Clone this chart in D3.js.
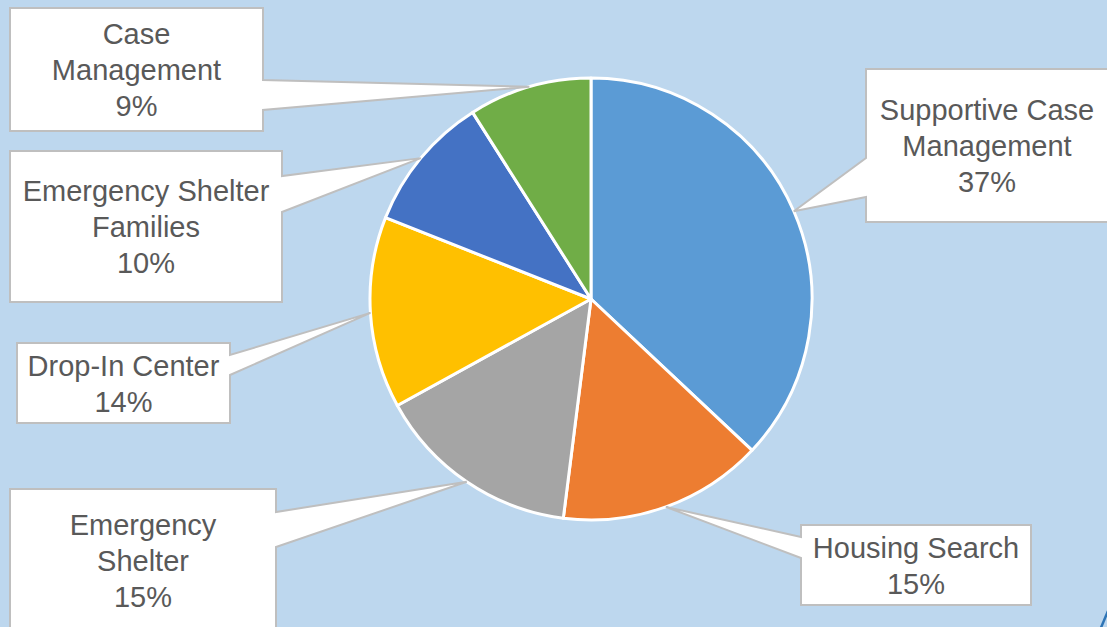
<!DOCTYPE html>
<html>
<head>
<meta charset="utf-8">
<script src="https://cdn.jsdelivr.net/npm/d3@7"></script>
<style>
  html, body { margin: 0; padding: 0; background: #BDD7EE; overflow: hidden; }
  svg { display: block; }
</style>
</head>
<body>
<script>
// slice data, clockwise from 12 o'clock
var categories = ["Supportive Case Management", "Housing Search", "Emergency Shelter",
                  "Drop-In Center", "Emergency Shelter Families", "Case Management"];
var values = [37, 15, 15, 14, 10, 9];
var percentLabels = ["37%", "15%", "15%", "14%", "10%", "9%"];
// how each category label wraps in its callout
var labelLines = [
  ["Supportive Case", "Management"],
  ["Housing Search"],
  ["Emergency", "Shelter"],
  ["Drop-In Center"],
  ["Emergency Shelter", "Families"],
  ["Case", "Management"]
];
var colors = ["#5B9BD5", "#ED7D31", "#A5A5A5", "#FFC000", "#4472C4", "#70AD47"];

// callout boxes: x0, y0, x1, y1, side where pointer leaves, pointer base y0/y1
var callouts = [
  {x0: 866, y0: 69, x1: 1110, y1: 222, side: "left", b0: 158, b1: 197},
  {x0: 801, y0: 525, x1: 1031, y1: 605, side: "left", b0: 537, b1: 558},
  {x0: 10, y0: 489, x1: 276, y1: 632, side: "right", b0: 512, b1: 547},
  {x0: 17, y0: 343, x1: 230, y1: 423, side: "right", b0: 355, b1: 375},
  {x0: 10, y0: 151, x1: 282, y1: 302, side: "right", b0: 176, b1: 212},
  {x0: 10, y0: 8, x1: 263, y1: 131, side: "right", b0: 80, b1: 110}
];

var width = 1107, height = 627;
var cx = 591, cy = 299, radius = 221;

var svg = d3.select("body").append("svg")
    .attr("width", width)
    .attr("height", height);

svg.append("rect")
    .attr("width", width)
    .attr("height", height)
    .attr("fill", "#BDD7EE");

var pie = d3.pie().sort(null).value(function(d) { return d; });
var arcs = pie(values);

var arc = d3.arc().innerRadius(0).outerRadius(radius);
var edgeArc = d3.arc().innerRadius(radius).outerRadius(radius);

var g = svg.append("g").attr("transform", "translate(" + cx + "," + cy + ")");

g.selectAll("path.slice")
  .data(arcs)
  .enter().append("path")
    .attr("class", "slice")
    .attr("d", arc)
    .attr("fill", function(d, i) { return colors[i]; })
    .attr("stroke", "#FFFFFF")
    .attr("stroke-width", 3)
    .attr("stroke-linejoin", "round");

// callout shape = box with a wedge that points to the slice edge
function calloutPath(c, tip) {
  var p = d3.path();
  p.moveTo(c.x0, c.y0);
  p.lineTo(c.x1, c.y0);
  if (c.side == "right") {
    p.lineTo(c.x1, c.b0);
    p.lineTo(tip[0], tip[1]);
    p.lineTo(c.x1, c.b1);
  }
  p.lineTo(c.x1, c.y1);
  p.lineTo(c.x0, c.y1);
  if (c.side == "left") {
    p.lineTo(c.x0, c.b1);
    p.lineTo(tip[0], tip[1]);
    p.lineTo(c.x0, c.b0);
  }
  p.closePath();
  return p.toString();
}

var labels = svg.selectAll("g.callout")
  .data(arcs)
  .enter().append("g")
    .attr("class", "callout");

labels.append("path")
    .attr("d", function(d, i) {
      var t = edgeArc.centroid(d);
      return calloutPath(callouts[i], [t[0] + cx, t[1] + cy]);
    })
    .attr("fill", "#FFFFFF")
    .attr("stroke", "#BFBFBF")
    .attr("stroke-width", 2)
    .attr("stroke-linejoin", "miter");

var lineH = 36;
labels.append("text")
    .attr("font-family", "'Liberation Sans', Arial, sans-serif")
    .attr("font-size", 29)
    .attr("fill", "#595959")
    .attr("text-anchor", "middle")
    .each(function(d, i) {
      var c = callouts[i];
      var lines = labelLines[i].concat([percentLabels[i]]);
      var midX = (c.x0 + c.x1) / 2;
      if (i == 0) midX = 987; // box runs off the right edge
      var first = (c.y0 + c.y1) / 2 - (lines.length - 1) * lineH / 2 + 10.5;
      var txt = d3.select(this);
      lines.forEach(function(s, k) {
        txt.append("tspan")
          .attr("x", midX)
          .attr("y", first + k * lineH)
          .text(s);
      });
    });

// bit of a dark outline peeking in at the bottom right corner
svg.append("path")
    .attr("d", "M1100,630 L1108,611")
    .attr("stroke", "#2E75B6")
    .attr("stroke-width", 2.5)
    .attr("fill", "none");
</script>
</body>
</html>
